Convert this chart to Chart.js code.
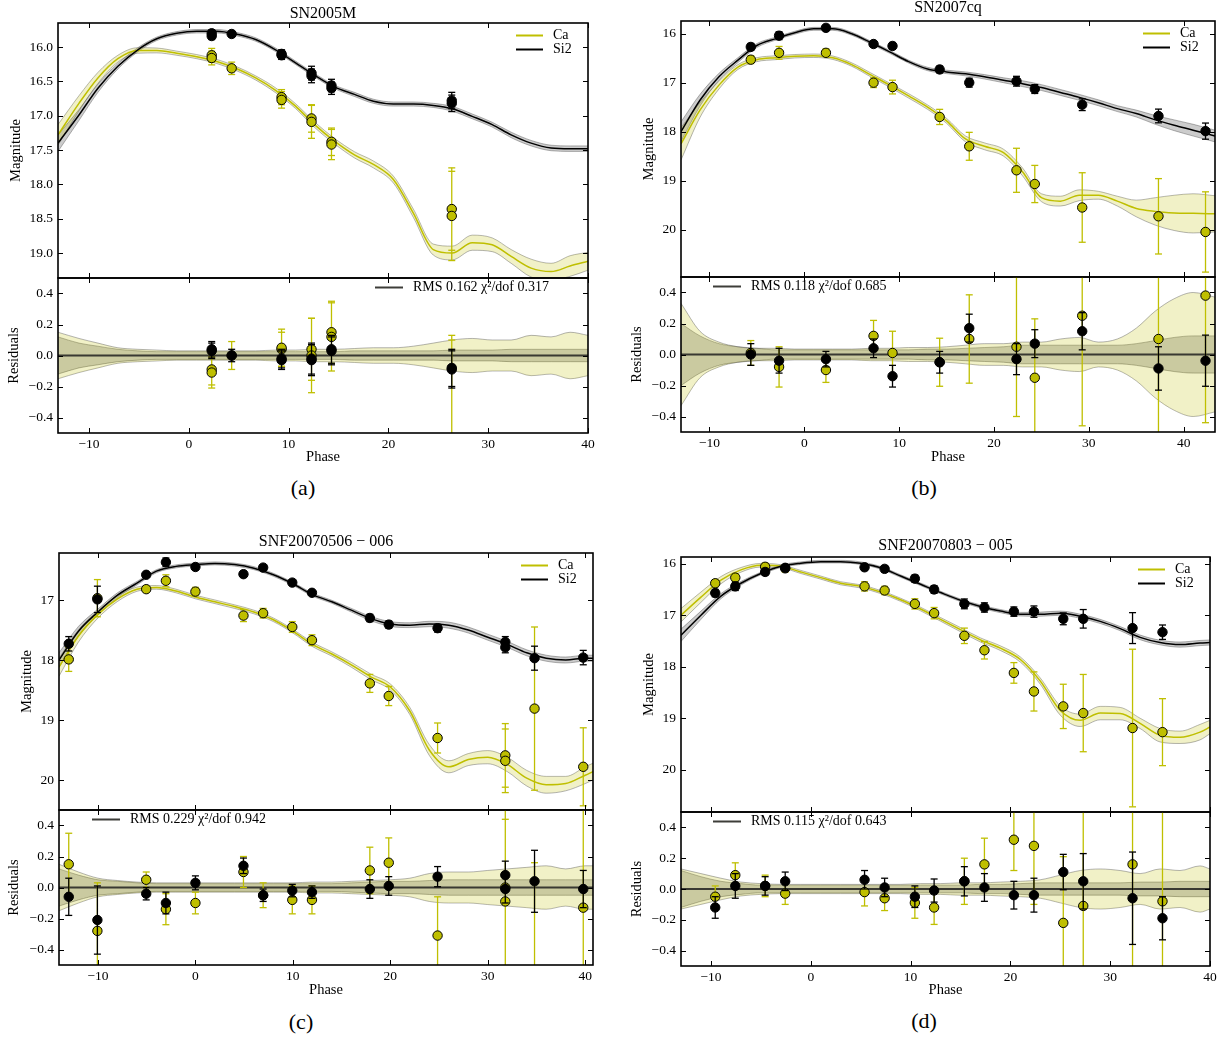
<!DOCTYPE html>
<html>
<head>
<meta charset="utf-8">
<title>Ca / Si2 light curves</title>
<script src="https://cdn.jsdelivr.net/npm/chart.js@4.4.1/dist/chart.umd.min.js"></script>
<style>
html,body{margin:0;padding:0;background:#fff;}
body{position:relative;width:1230px;height:1039px;overflow:hidden;font-family:'Liberation Serif','Times New Roman',serif;color:#000;}
canvas{position:absolute;}
.lbl{position:absolute;transform:translate(-50%,-50%);white-space:nowrap;line-height:1;}
</style>
</head>
<body>
<script>
// ===================== DATA =====================
const xTickVals = [-10, 0, 10, 20, 30, 40];
const xTickLabels = ['\u221210', '0', '10', '20', '30', '40'];
const resTickVals = [-0.4, -0.2, 0, 0.2, 0.4];
const resTickLabels = ['\u22120.4', '\u22120.2', '0.0', '0.2', '0.4'];

// ---- (a) SN2005M ----
const magTickValsA = [16, 16.5, 17, 17.5, 18, 18.5, 19];
const magTickLabelsA = ['16.0', '16.5', '17.0', '17.5', '18.0', '18.5', '19.0'];
const gridA = [-13.1, -11, -9.1, -7.1, -5.1, -3.2, -1.2, 0.8, 2.8, 4.7, 6.7, 8.7, 10.7, 12.6, 14.6, 16.6, 18.5, 20.5, 22.5, 24.5, 26.4, 28.4, 30.4, 32.3, 34.3, 36.3, 38.2, 40];
const siModelA = [17.40, 16.99, 16.60, 16.28, 16.04, 15.88, 15.80, 15.77, 15.77, 15.81, 15.89, 16.04, 16.23, 16.41, 16.58, 16.69, 16.79, 16.83, 16.83, 16.85, 16.90, 17.01, 17.13, 17.28, 17.40, 17.47, 17.48, 17.48];
const caModelA = [17.28, 16.82, 16.45, 16.17, 16.05, 16.05, 16.09, 16.14, 16.21, 16.31, 16.45, 16.63, 16.86, 17.13, 17.37, 17.57, 17.71, 17.93, 18.42, 18.95, 19.00, 18.85, 18.88, 19.05, 19.22, 19.27, 19.19, 19.12];
const caBandA = [0.15, 0.11, 0.08, 0.05, 0.04, 0.035, 0.03, 0.03, 0.03, 0.03, 0.03, 0.035, 0.035, 0.04, 0.04, 0.045, 0.05, 0.05, 0.06, 0.08, 0.1, 0.11, 0.1, 0.1, 0.13, 0.12, 0.15, 0.13];
const siBandA = [0.12, 0.08, 0.06, 0.04, 0.03, 0.025, 0.025, 0.025, 0.025, 0.025, 0.025, 0.025, 0.025, 0.025, 0.025, 0.03, 0.03, 0.03, 0.03, 0.03, 0.035, 0.035, 0.035, 0.04, 0.04, 0.04, 0.04, 0.04];
const obsPhaseA = [2.3, 2.3, 4.3, 9.3, 9.3, 12.3, 12.3, 14.3, 14.3, 26.35, 26.35];
const siMagA = [15.80, 15.84, 15.81, 16.10, 16.12, 16.38, 16.42, 16.56, 16.60, 16.78, 16.82];
const siErrA = [0.05, 0.05, 0.04, 0.06, 0.06, 0.1, 0.1, 0.09, 0.09, 0.12, 0.12];
const siResA = [0.03, 0.04, 0.0, -0.02, -0.03, -0.02, -0.03, 0.03, 0.04, -0.08, -0.09];
const caMagA = [16.12, 16.16, 16.31, 16.73, 16.77, 17.04, 17.09, 17.38, 17.42, 18.36, 18.46];
const caErrA = [0.1, 0.1, 0.09, 0.11, 0.12, 0.2, 0.24, 0.2, 0.22, 0.6, 0.65];
const caResErrA = [0.1, 0.1, 0.09, 0.11, 0.12, 0.2, 0.24, 0.2, 0.22, 0.7, 0.72];
const caResA = [-0.09, -0.11, 0.0, 0.04, 0.05, 0.04, 0.0, 0.15, 0.12, -0.57, -0.62];

// ---- (b) SN2007cq ----
const magTickValsB = [16, 17, 18, 19, 20];
const magTickLabelsB = ['16', '17', '18', '19', '20'];
const gridB = [-13, -11, -9, -7, -5, -3, -1, 1, 3, 5, 7, 9, 11, 13, 15, 17, 19, 21, 23, 25, 27, 29, 31, 33, 35, 37, 39, 41, 43.3];
const siModelB = [18.0, 17.36, 16.88, 16.54, 16.24, 16.1, 15.98, 15.9, 15.9, 16.0, 16.18, 16.37, 16.57, 16.72, 16.78, 16.82, 16.88, 16.95, 17.02, 17.1, 17.2, 17.3, 17.41, 17.53, 17.63, 17.76, 17.87, 17.97, 18.09];
const caModelB = [18.25, 17.56, 17.05, 16.68, 16.53, 16.49, 16.46, 16.45, 16.49, 16.63, 16.84, 17.05, 17.27, 17.5, 17.78, 18.15, 18.3, 18.43, 18.82, 19.35, 19.42, 19.3, 19.3, 19.42, 19.57, 19.63, 19.66, 19.67, 19.68];
const caBandB = [0.33, 0.15, 0.08, 0.05, 0.04, 0.04, 0.035, 0.035, 0.035, 0.035, 0.04, 0.04, 0.045, 0.045, 0.05, 0.06, 0.07, 0.07, 0.08, 0.08, 0.1, 0.11, 0.08, 0.1, 0.17, 0.28, 0.36, 0.4, 0.37];
const siBandB = [0.2, 0.12, 0.07, 0.05, 0.04, 0.03, 0.03, 0.03, 0.03, 0.03, 0.03, 0.03, 0.03, 0.035, 0.035, 0.04, 0.045, 0.05, 0.06, 0.06, 0.06, 0.06, 0.06, 0.06, 0.07, 0.09, 0.11, 0.12, 0.12];
const obsPhaseB = [-5.64, -2.66, 2.28, 7.3, 9.3, 14.27, 17.39, 22.37, 24.3, 29.3, 37.34, 42.3];
const siMagB = [16.27, 16.04, 15.88, 16.21, 16.25, 16.73, 17.0, 16.97, 17.13, 17.45, 17.68, 17.99];
const siErrB = [0.07, 0.08, 0.05, 0.06, 0.07, 0.07, 0.09, 0.1, 0.09, 0.12, 0.14, 0.165];
const siResB = [0.0, -0.04, -0.03, 0.04, -0.14, -0.05, 0.17, -0.03, 0.07, 0.15, -0.09, -0.04];
const caMagB = [16.53, 16.39, 16.39, 17.0, 17.09, 17.70, 18.30, 18.79, 19.07, 19.55, 19.73, 20.05];
const caErrB = [0.08, 0.13, 0.08, 0.1, 0.14, 0.155, 0.285, 0.45, 0.38, 0.71, 0.77, 0.82];
const caResErrB = caErrB;
const caResB = [0.01, -0.08, -0.1, 0.12, 0.01, -0.05, 0.1, 0.05, -0.15, 0.25, 0.1, 0.38];

// ---- (c) SNF20070506-006 ----
const magTickValsC = [17, 18, 19, 20];
const magTickLabelsC = ['17', '18', '19', '20'];
const gridC = [-14, -12, -10, -8, -6, -4, -2, 0, 2, 4, 6, 8, 10, 12, 14, 16, 18, 20, 22, 24, 26, 28, 30, 32, 34, 36, 38, 40, 40.8];
const siModelC = [18.0, 17.52, 17.2, 16.92, 16.72, 16.52, 16.44, 16.41, 16.39, 16.41, 16.47, 16.58, 16.73, 16.91, 17.03, 17.17, 17.31, 17.40, 17.42, 17.40, 17.42, 17.50, 17.62, 17.74, 17.88, 17.97, 18.0, 17.97, 17.97];
const caModelC = [18.12, 17.6, 17.24, 16.98, 16.82, 16.79, 16.85, 16.95, 17.03, 17.11, 17.2, 17.33, 17.52, 17.74, 17.9, 18.08, 18.28, 18.45, 18.85, 19.5, 19.78, 19.66, 19.62, 19.74, 19.97, 20.08, 20.06, 19.92, 19.86];
const caBandC = [0.15, 0.1, 0.06, 0.045, 0.035, 0.03, 0.03, 0.03, 0.03, 0.03, 0.03, 0.03, 0.03, 0.035, 0.035, 0.04, 0.045, 0.05, 0.06, 0.09, 0.1, 0.1, 0.11, 0.12, 0.13, 0.14, 0.12, 0.14, 0.14];
const siBandC = [0.12, 0.08, 0.05, 0.04, 0.03, 0.025, 0.025, 0.025, 0.025, 0.025, 0.025, 0.025, 0.025, 0.025, 0.025, 0.03, 0.035, 0.04, 0.04, 0.045, 0.05, 0.05, 0.05, 0.05, 0.05, 0.05, 0.05, 0.05, 0.05];
const obsPhaseC = [-13.0, -10.06, -5.05, -3.03, 0, 4.93, 6.95, 9.94, 11.96, 17.9, 19.84, 24.85, 31.8, 31.8, 34.8, 39.8];
const siMagC = [17.73, 16.99, 16.58, 16.37, 16.45, 16.57, 16.46, 16.71, 16.88, 17.30, 17.41, 17.47, 17.70, 17.79, 17.97, 17.96];
const siErrC = [0.12, 0.22, 0.04, 0.07, 0.045, 0.05, 0.04, 0.04, 0.04, 0.06, 0.06, 0.065, 0.09, 0.09, 0.2, 0.12];
const siResC = [-0.06, -0.21, -0.04, -0.1, 0.03, 0.14, -0.05, -0.02, -0.03, -0.01, 0.01, 0.07, 0.08, -0.01, 0.04, -0.01];
const caMagC = [17.99, 16.97, 16.82, 16.68, 16.86, 17.26, 17.22, 17.45, 17.67, 18.39, 18.60, 19.30, 19.59, 19.68, 18.81, 19.78];
const caErrC = [0.2, 0.31, 0.05, 0.1, 0.07, 0.1, 0.08, 0.09, 0.09, 0.15, 0.16, 0.25, 0.53, 0.53, 1.36, 0.65];
const caResErrC = caErrC;
const caResC = [0.15, -0.28, 0.05, -0.14, -0.1, 0.1, -0.05, -0.08, -0.08, 0.11, 0.16, -0.31, 0.0, -0.09, -1.2, -0.13];

// ---- (d) SNF20070803-005 ----
const magTickValsD = [16, 17, 18, 19, 20];
const magTickLabelsD = ['16', '17', '18', '19', '20'];
const gridD = [-13, -11, -9, -7, -5, -3, -1, 1, 3, 5, 7, 9, 11, 13, 15, 17, 19, 21, 23, 25, 27, 29, 31, 33, 35, 37, 39, 40];
const siModelD = [17.39, 17.0, 16.63, 16.38, 16.19, 16.05, 15.99, 15.96, 15.96, 15.99, 16.08, 16.24, 16.40, 16.56, 16.71, 16.83, 16.92, 16.98, 16.98, 16.96, 17.02, 17.12, 17.26, 17.43, 17.53, 17.57, 17.54, 17.53];
const caModelD = [17.0, 16.65, 16.32, 16.12, 16.03, 16.05, 16.16, 16.27, 16.38, 16.44, 16.55, 16.70, 16.88, 17.08, 17.28, 17.48, 17.64, 17.86, 18.28, 18.85, 19.04, 18.9, 18.91, 19.1, 19.33, 19.37, 19.27, 19.17];
const caBandD = [0.13, 0.1, 0.07, 0.045, 0.035, 0.03, 0.03, 0.03, 0.03, 0.03, 0.03, 0.03, 0.035, 0.035, 0.04, 0.04, 0.045, 0.05, 0.06, 0.09, 0.12, 0.13, 0.12, 0.1, 0.13, 0.12, 0.15, 0.13];
const siBandD = [0.12, 0.08, 0.05, 0.035, 0.025, 0.025, 0.025, 0.025, 0.025, 0.025, 0.025, 0.025, 0.025, 0.025, 0.025, 0.03, 0.03, 0.035, 0.04, 0.04, 0.04, 0.04, 0.04, 0.045, 0.045, 0.05, 0.05, 0.05];
const obsPhaseD = [-9.57, -7.56, -4.57, -2.56, 5.39, 7.4, 10.43, 12.36, 15.39, 17.4, 20.35, 22.36, 25.3, 27.3, 32.24, 35.24];
const siMagD = [16.57, 16.44, 16.16, 16.08, 16.07, 16.10, 16.29, 16.50, 16.78, 16.85, 16.93, 16.93, 17.07, 17.07, 17.25, 17.33];
const siErrD = [0.07, 0.08, 0.06, 0.06, 0.06, 0.06, 0.07, 0.075, 0.095, 0.09, 0.09, 0.11, 0.115, 0.18, 0.3, 0.14];
const siResD = [-0.12, 0.02, 0.02, 0.05, 0.06, 0.01, -0.05, -0.01, 0.05, 0.01, -0.04, -0.04, 0.11, 0.05, -0.06, -0.19];
const caMagD = [16.38, 16.27, 16.06, 16.09, 16.44, 16.52, 16.78, 16.96, 17.40, 17.68, 18.12, 18.48, 18.77, 18.90, 19.19, 19.27];
const caErrD = [0.07, 0.08, 0.07, 0.07, 0.09, 0.08, 0.1, 0.11, 0.15, 0.17, 0.2, 0.38, 0.43, 0.75, 1.53, 0.65];
const caResErrD = caErrD;
const caResD = [-0.05, 0.09, 0.02, -0.03, -0.02, -0.06, -0.09, -0.12, 0.05, 0.16, 0.32, 0.28, -0.22, -0.11, 0.16, -0.08];

const titles = ['SN2005M', 'SN2007cq', 'SNF20070506 \u2212 006', 'SNF20070803 \u2212 005'];
const captions = ['(a)', '(b)', '(c)', '(d)'];
const rmsTexts = ['RMS 0.162 \u03c7\u00b2/dof 0.317', 'RMS 0.118 \u03c7\u00b2/dof 0.685', 'RMS 0.229 \u03c7\u00b2/dof 0.942', 'RMS 0.115 \u03c7\u00b2/dof 0.643'];

// ===================== LAYOUT / STYLE =====================
const FONT = "'Liberation Serif','Times New Roman',serif";
const CA_COLOR = '#bfbf00';
const CA_FILL = 'rgba(191,191,0,0.22)';
const SI_FILL = 'rgba(0,0,0,0.2)';
const EDGE = 'rgba(90,90,90,0.45)';
const ZERO_COLOR = 'rgba(45,45,40,0.92)';
const TICK_FS = 13.5, AXT_FS = 14.5, LEG_FS = 14;
const TITLE_OFF = 4 + AXT_FS * 1.2 / 2;

const layouts = [
  { main:{l:58,t:23,r:588,b:278}, res:{l:58,t:278,r:588,b:433}, xRange:[-13.1,40], magRange:[15.65,19.364],
    yTitleMain:16, yTitleRes:14, titleY:13, capX:303, capY:488, rmsX:375, phaseY:457.7 },
  { main:{l:681,t:21,r:1215,b:277}, res:{l:681,t:277,r:1215,b:432}, xRange:[-13,43.3], magRange:[15.74,20.97],
    yTitleMain:649, yTitleRes:637, titleY:7, capX:924, capY:488, rmsX:713, phaseY:457.7 },
  { main:{l:59,t:553,r:593,b:810}, res:{l:59,t:810,r:593,b:965}, xRange:[-14,40.8], magRange:[16.217,20.5],
    yTitleMain:27, yTitleRes:14, titleY:541, capX:301, capY:1022, rmsX:92, phaseY:990.7 },
  { main:{l:681,t:557,r:1210,b:812}, res:{l:681,t:812,r:1210,b:966}, xRange:[-13,40], magRange:[15.87,20.82],
    yTitleMain:649, yTitleRes:637, titleY:545, capX:924, capY:1021, rmsX:713, phaseY:990.7 }
];

const panels = [
  {grid:gridA, siModel:siModelA, caModel:caModelA, caBand:caBandA, siBand:siBandA, obs:obsPhaseA,
   siMag:siMagA, siErr:siErrA, siRes:siResA, caMag:caMagA, caErr:caErrA, caRes:caResA, caResErr:caResErrA, magTicks:magTickValsA, magLabels:magTickLabelsA},
  {grid:gridB, siModel:siModelB, caModel:caModelB, caBand:caBandB, siBand:siBandB, obs:obsPhaseB,
   siMag:siMagB, siErr:siErrB, siRes:siResB, caMag:caMagB, caErr:caErrB, caRes:caResB, caResErr:caResErrB, magTicks:magTickValsB, magLabels:magTickLabelsB},
  {grid:gridC, siModel:siModelC, caModel:caModelC, caBand:caBandC, siBand:siBandC, obs:obsPhaseC,
   siMag:siMagC, siErr:siErrC, siRes:siResC, caMag:caMagC, caErr:caErrC, caRes:caResC, caResErr:caResErrC, magTicks:magTickValsC, magLabels:magTickLabelsC},
  {grid:gridD, siModel:siModelD, caModel:caModelD, caBand:caBandD, siBand:siBandD, obs:obsPhaseD,
   siMag:siMagD, siErr:siErrD, siRes:siResD, caMag:caMagD, caErr:caErrD, caRes:caResD, caResErr:caResErrD, magTicks:magTickValsD, magLabels:magTickLabelsD}
];

// ===================== HELPERS =====================
const xy = (xs, ys) => xs.map((x, i) => ({x, y: ys[i]}));
const bandPts = (xs, center, hw, sign) => xs.map((x, i) => ({x, y: (center ? center[i] : 0) + sign * hw[i]}));
function errSegs(xs, ys, es) {
  const out = [];
  xs.forEach((x, i) => { out.push({x, y: ys[i] - es[i]}, {x, y: ys[i] + es[i]}, {x, y: null}); });
  return out;
}
function pointsDS(data, color) {
  return {data, showLine:false, pointRadius:4.7, pointBackgroundColor:color, pointBorderColor:'#000',
          pointBorderWidth:1, borderColor:color, backgroundColor:color};
}
function errDS(data, color) {
  return {data, showLine:true, spanGaps:false, borderColor:color, borderWidth:1.3, pointStyle:'line',
          pointRadius:3.5, pointBorderColor:color, pointBorderWidth:1.3, pointBackgroundColor:color, fill:false};
}
function lineDS(data, color, w) {
  return {data, borderColor:color, borderWidth:w, pointRadius:0, cubicInterpolationMode:'monotone', fill:false};
}
function bandDS(data, fillColor) {
  return {data, borderColor:EDGE, borderWidth:1, pointRadius:0, cubicInterpolationMode:'monotone',
          fill: fillColor ? '+1' : false, backgroundColor: fillColor || 'transparent'};
}

function makeFramePlugin(legend) {
  return {
    id: 'frameTicks',
    afterDatasetsDraw(chart) {
      const {ctx, chartArea: a} = chart;
      const xs = chart.scales.x, ys = chart.scales.y;
      ctx.save();
      ctx.strokeStyle = '#000';
      ctx.lineWidth = 1;
      ctx.beginPath();
      for (const t of xs.ticks) {
        const p = Math.round(xs.getPixelForValue(t.value)) + 0.5;
        if (p < a.left - 1 || p > a.right + 1) continue;
        ctx.moveTo(p, a.bottom); ctx.lineTo(p, a.bottom - 5);
        ctx.moveTo(p, a.top); ctx.lineTo(p, a.top + 5);
      }
      for (const t of ys.ticks) {
        const p = Math.round(ys.getPixelForValue(t.value)) + 0.5;
        ctx.moveTo(a.left, p); ctx.lineTo(a.left + 5, p);
        ctx.moveTo(a.right, p); ctx.lineTo(a.right - 5, p);
      }
      ctx.stroke();
      ctx.lineWidth = 1.6;
      ctx.strokeRect(a.left, a.top, a.right - a.left, a.bottom - a.top);
      ctx.font = legend.fontSize + 'px ' + FONT;
      ctx.textBaseline = 'middle';
      ctx.textAlign = 'left';
      legend.items.forEach((it, i) => {
        const y = a.top + legend.dy0 + i * legend.dy;
        const x0 = legend.fromRight ? a.right - legend.dx0 : a.left + legend.dx0;
        ctx.strokeStyle = it.color; ctx.lineWidth = it.width;
        ctx.beginPath(); ctx.moveTo(x0, y); ctx.lineTo(x0 + legend.len, y); ctx.stroke();
        ctx.fillStyle = '#000';
        ctx.fillText(it.text, x0 + legend.textDx, y);
      });
      ctx.restore();
    }
  };
}

function addText(text, x, y, size) {
  const d = document.createElement('div');
  d.className = 'lbl';
  d.textContent = text;
  d.style.left = x + 'px';
  d.style.top = y + 'px';
  d.style.fontSize = size + 'px';
  document.body.appendChild(d);
}

function buildChart(idx, kind) {
  const P = panels[idx], L = layouts[idx];
  const isMain = kind === 'main';
  const rect = isMain ? L.main : L.res;
  const yTitleX = isMain ? L.yTitleMain : L.yTitleRes;
  const canvasLeft = Math.round(yTitleX - TITLE_OFF);
  const ML = rect.l - canvasLeft;
  const MT = 14, MR = 18;
  const MB = isMain ? 14 : Math.round(L.phaseY - rect.b + TITLE_OFF);
  const W = rect.r - canvasLeft + MR;
  const H = MT + (rect.b - rect.t) + MB;
  const cv = document.createElement('canvas');
  cv.width = W; cv.height = H;
  cv.style.left = canvasLeft + 'px';
  cv.style.top = (rect.t - MT) + 'px';
  cv.style.width = W + 'px';
  cv.style.height = H + 'px';
  document.body.appendChild(cv);

  const caY = isMain ? P.caMag : P.caRes;
  const siY = isMain ? P.siMag : P.siRes;
  const caE = isMain ? P.caErr : P.caResErr;
  const center = (arr) => isMain ? arr : null;

  const datasets = [
    pointsDS(xy(P.obs, siY), '#000'),
    errDS(errSegs(P.obs, siY, P.siErr), '#000'),
    pointsDS(xy(P.obs, caY), CA_COLOR),
    errDS(errSegs(P.obs, caY, caE), CA_COLOR)
  ];
  if (isMain) {
    datasets.push(lineDS(xy(P.grid, P.siModel), '#000', 1.5));
    datasets.push(lineDS(xy(P.grid, P.caModel), CA_COLOR, 1.5));
  } else {
    datasets.push(lineDS([{x: L.xRange[0], y: 0}, {x: L.xRange[1], y: 0}], ZERO_COLOR, 2));
  }
  datasets.push(bandDS(bandPts(P.grid, center(P.caModel), P.caBand, 1), CA_FILL));
  datasets.push(bandDS(bandPts(P.grid, center(P.caModel), P.caBand, -1), null));
  datasets.push(bandDS(bandPts(P.grid, center(P.siModel), P.siBand, 1), SI_FILL));
  datasets.push(bandDS(bandPts(P.grid, center(P.siModel), P.siBand, -1), null));

  const yVals = isMain ? P.magTicks : resTickVals;
  const yLabels = isMain ? P.magLabels : resTickLabels;
  const yRange = isMain ? L.magRange : [-0.5, 0.5];

  const legend = isMain
    ? {items:[{color:CA_COLOR, width:2, text:'Ca'}, {color:'#000', width:2, text:'Si2'}],
       fromRight:true, dx0:72, dy0:12.5, dy:14, len:27, textDx:37, fontSize:LEG_FS}
    : {items:[{color:ZERO_COLOR, width:2, text:rmsTexts[idx]}],
       fromRight:false, dx0:L.rmsX - rect.l, dy0:9.5, dy:14, len:28, textDx:38, fontSize:LEG_FS};

  new Chart(cv, {
    type: 'line',
    data: {datasets},
    options: {
      responsive:false, maintainAspectRatio:false, animation:false, events:[], devicePixelRatio:1,
      layout:{padding:{top:MT, right:MR, bottom:isMain ? MB : 0, left:0}},
      plugins:{legend:{display:false}, tooltip:{enabled:false}, title:{display:false}},
      scales:{
        x:{
          type:'linear', bounds:'data', min:L.xRange[0], max:L.xRange[1],
          afterBuildTicks:(ax) => { ax.ticks = xTickVals.map(v => ({value:v})); },
          afterFit:(ax) => { ax.height = isMain ? 0 : MB; },
          grid:{display:false, drawTicks:false}, border:{display:false},
          ticks:{display:!isMain, padding:3, color:'#000', font:{family:FONT, size:TICK_FS},
                 maxRotation:0, autoSkip:false, callback:(v, i) => xTickLabels[i]},
          title:{display:!isMain, text:'Phase', color:'#000', font:{family:FONT, size:AXT_FS},
                 padding:{top:0, bottom:4}}
        },
        y:{
          type:'linear', bounds:'data', reverse:isMain, min:yRange[0], max:yRange[1],
          afterBuildTicks:(ax) => { ax.ticks = yVals.map(v => ({value:v})); },
          afterFit:(ax) => { ax.width = ML; },
          grid:{display:false, drawTicks:false}, border:{display:false},
          ticks:{padding:5, color:'#000', font:{family:FONT, size:TICK_FS}, autoSkip:false,
                 callback:(v, i) => yLabels[i]},
          title:{display:true, text:isMain ? 'Magnitude' : 'Residuals', color:'#000',
                 font:{family:FONT, size:AXT_FS}, padding:{top:4, bottom:0}}
        }
      }
    },
    plugins:[makeFramePlugin(legend)]
  });
}

for (let i = 0; i < 4; i++) {
  buildChart(i, 'main');
  buildChart(i, 'res');
  const L = layouts[i];
  addText(titles[i], (L.main.l + L.main.r) / 2, L.titleY, 16);
  addText(captions[i], L.capX, L.capY, 22);
}
</script>
</body>
</html>
